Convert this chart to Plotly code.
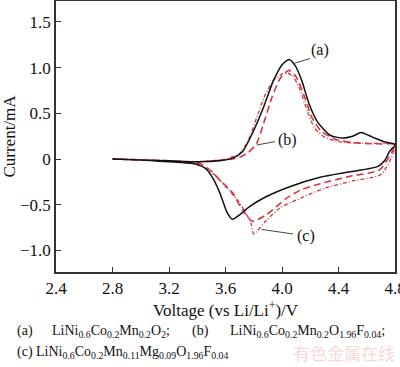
import plotly.graph_objects as go

# (a) LiNi0.6Co0.2Mn0.2O2  -- anodic scan then cathodic scan
volt_a = [2.80, 3.00, 3.20, 3.40, 3.55, 3.65, 3.72, 3.79, 3.87, 3.94, 4.00, 4.05, 4.09, 4.14, 4.19, 4.25,
          4.34, 4.43, 4.50, 4.56, 4.64, 4.72, 4.80,
          4.76, 4.73, 4.68, 4.48, 4.27, 4.06, 3.89, 3.77, 3.70, 3.65, 3.61, 3.56, 3.51, 3.47, 3.42, 3.37,
          3.20, 3.00, 2.80]
curr_a = [0.00, -0.01, -0.02, -0.03, -0.02, 0.01, 0.08, 0.28, 0.57, 0.86, 1.03, 1.09, 1.03, 0.86, 0.61, 0.41,
          0.26, 0.23, 0.25, 0.29, 0.24, 0.19, 0.16,
          0.08, -0.01, -0.08, -0.14, -0.20, -0.30, -0.41, -0.52, -0.61, -0.66, -0.58, -0.37, -0.21, -0.12,
          -0.07, -0.05, -0.03, -0.01, 0.00]

# (b) LiNi0.6Co0.2Mn0.2O1.96F0.04
volt_b = [2.80, 3.00, 3.20, 3.40, 3.60, 3.70, 3.76, 3.82, 3.87, 3.93, 3.99, 4.05, 4.10, 4.16, 4.21, 4.28,
          4.39, 4.50, 4.60, 4.70, 4.80,
          4.76, 4.69, 4.48, 4.27, 4.13, 4.03, 3.89, 3.79, 3.72, 3.65, 3.56, 3.49, 3.42, 3.20, 3.00, 2.80]
curr_b = [0.00, -0.01, -0.02, -0.03, -0.01, 0.02, 0.07, 0.17, 0.39, 0.68, 0.89, 0.97, 0.90, 0.68, 0.46, 0.30,
          0.21, 0.18, 0.17, 0.165, 0.16,
          0.03, -0.12, -0.19, -0.27, -0.34, -0.43, -0.61, -0.68, -0.56, -0.37, -0.23, -0.12, -0.05, -0.02,
          -0.01, 0.00]

# (c) LiNi0.6Co0.2Mn0.11Mg0.09O1.96F0.04
volt_c = [2.80, 3.00, 3.20, 3.40, 3.60, 3.70, 3.76, 3.82, 3.88, 3.94, 4.00, 4.04, 4.08, 4.13, 4.18, 4.23,
          4.30, 4.40, 4.60, 4.80,
          4.77, 4.70, 4.50, 4.30, 4.10, 3.99, 3.89, 3.80, 3.78, 3.74, 3.68, 3.60, 3.52, 3.45, 3.30, 3.00, 2.80]
curr_c = [0.00, -0.01, -0.02, -0.03, 0.00, 0.06, 0.20, 0.45, 0.70, 0.86, 0.93, 0.94, 0.90, 0.75, 0.52, 0.34,
          0.24, 0.19, 0.17, 0.16,
          0.00, -0.17, -0.24, -0.32, -0.45, -0.53, -0.67, -0.82, -0.70, -0.58, -0.44, -0.30, -0.17, -0.09,
          -0.03, -0.01, 0.00]

x_ticks = [2.4, 2.8, 3.2, 3.6, 4.0, 4.4, 4.8]
x_tick_labels = ["2.4", "2.8", "3.2", "3.6", "4.0", "4.4", "4.8"]
y_ticks = [-1.0, -0.5, 0, 0.5, 1.0, 1.5]
y_tick_labels = ["\u22121.0", "\u22120.5", "0", "0.5", "1.0", "1.5"]

SERIF = "Liberation Serif"
RED = "#d8383c"

fig = go.Figure()
fig.add_trace(go.Scatter(x=volt_c, y=curr_c, mode="lines",
                         line=dict(color="#c83848", width=1.3, dash="4px,2px,1px,2px", shape="spline",
                                   smoothing=0.6)))
fig.add_trace(go.Scatter(x=volt_b, y=curr_b, mode="lines",
                         line=dict(color=RED, width=1.6, dash="7px,4px", shape="spline", smoothing=0.6)))
fig.add_trace(go.Scatter(x=volt_a, y=curr_a, mode="lines",
                         line=dict(color="#111111", width=1.5, shape="spline", smoothing=0.6)))

# leader lines for labels
for (x0, y0, x1, y1) in [(4.087, 1.047, 4.198, 1.10), (3.821, 0.153, 3.95, 0.19), (3.856, -0.77, 4.078, -0.82)]:
    fig.add_shape(type="line", x0=x0, y0=y0, x1=x1, y1=y1, xref="x", yref="y",
                  line=dict(color="#444444", width=1))

for (tx, ty, t) in [(4.27, 1.19, "(a)"), (4.04, 0.21, "(b)"), (4.17, -0.84, "(c)")]:
    fig.add_annotation(x=tx, y=ty, text=t, showarrow=False, xref="x", yref="y",
                       font=dict(family=SERIF, size=16, color="#111"))

# caption
def px(xp):
    return (xp - 56) / 339.0

def py(yp):
    return (272 - yp) / 271.0

cap_font = dict(family=SERIF, size=14, color="#111")
caption = [
    (15, 331, "(a)"),
    (50, 331, "LiNi<sub>0.6</sub>Co<sub>0.2</sub>Mn<sub>0.2</sub>O<sub>2</sub>;"),
    (190, 331, "(b)"),
    (228, 331, "LiNi<sub>0.6</sub>Co<sub>0.2</sub>Mn<sub>0.2</sub>O<sub>1.96</sub>F<sub>0.04</sub>;"),
    (15, 352, "(c) LiNi<sub>0.6</sub>Co<sub>0.2</sub>Mn<sub>0.11</sub>Mg<sub>0.09</sub>O<sub>1.96</sub>F<sub>0.04</sub>"),
]
for (x0, y0, t) in caption:
    fig.add_annotation(x=px(x0), y=py(y0), xref="paper", yref="paper", text=t, showarrow=False,
                       xanchor="left", yanchor="middle", font=cap_font)

fig.add_annotation(x=px(344), y=py(352), xref="paper", yref="paper", text="有色金属在线", showarrow=False,
                   xanchor="center", yanchor="middle",
                   font=dict(family="Noto Sans CJK SC", size=17, color="rgba(232,140,140,0.35)"))

axis_common = dict(showline=True, linecolor="#333333", linewidth=1.5, mirror=True, showgrid=False,
                   zeroline=False, ticks="inside", ticklen=5, tickcolor="#333333", tickwidth=1,
                   automargin=False, ticklabeloverflow="allow",
                   tickfont=dict(family=SERIF, size=17, color="#111"))

fig.update_layout(
    width=400, height=367,
    margin=dict(l=56, r=5, t=1, b=95),
    paper_bgcolor="white", plot_bgcolor="white",
    showlegend=False,
    xaxis=dict(range=[2.4, 4.8], tickvals=x_ticks, ticktext=x_tick_labels,
               title=dict(text="Voltage (vs Li/Li<sup>+</sup>)/V", font=dict(family=SERIF, size=17, color="#111"),
                          standoff=0),
               **axis_common),
    yaxis=dict(range=[-1.236, 1.729], tickvals=y_ticks, ticktext=y_tick_labels,
               title=dict(text="Current/mA", font=dict(family=SERIF, size=17, color="#111"), standoff=3),
               **axis_common),
)

fig.write_html("out.html", config={"displayModeBar": False},
               post_script="document.body.style.margin='0';document.body.style.padding='0';")
